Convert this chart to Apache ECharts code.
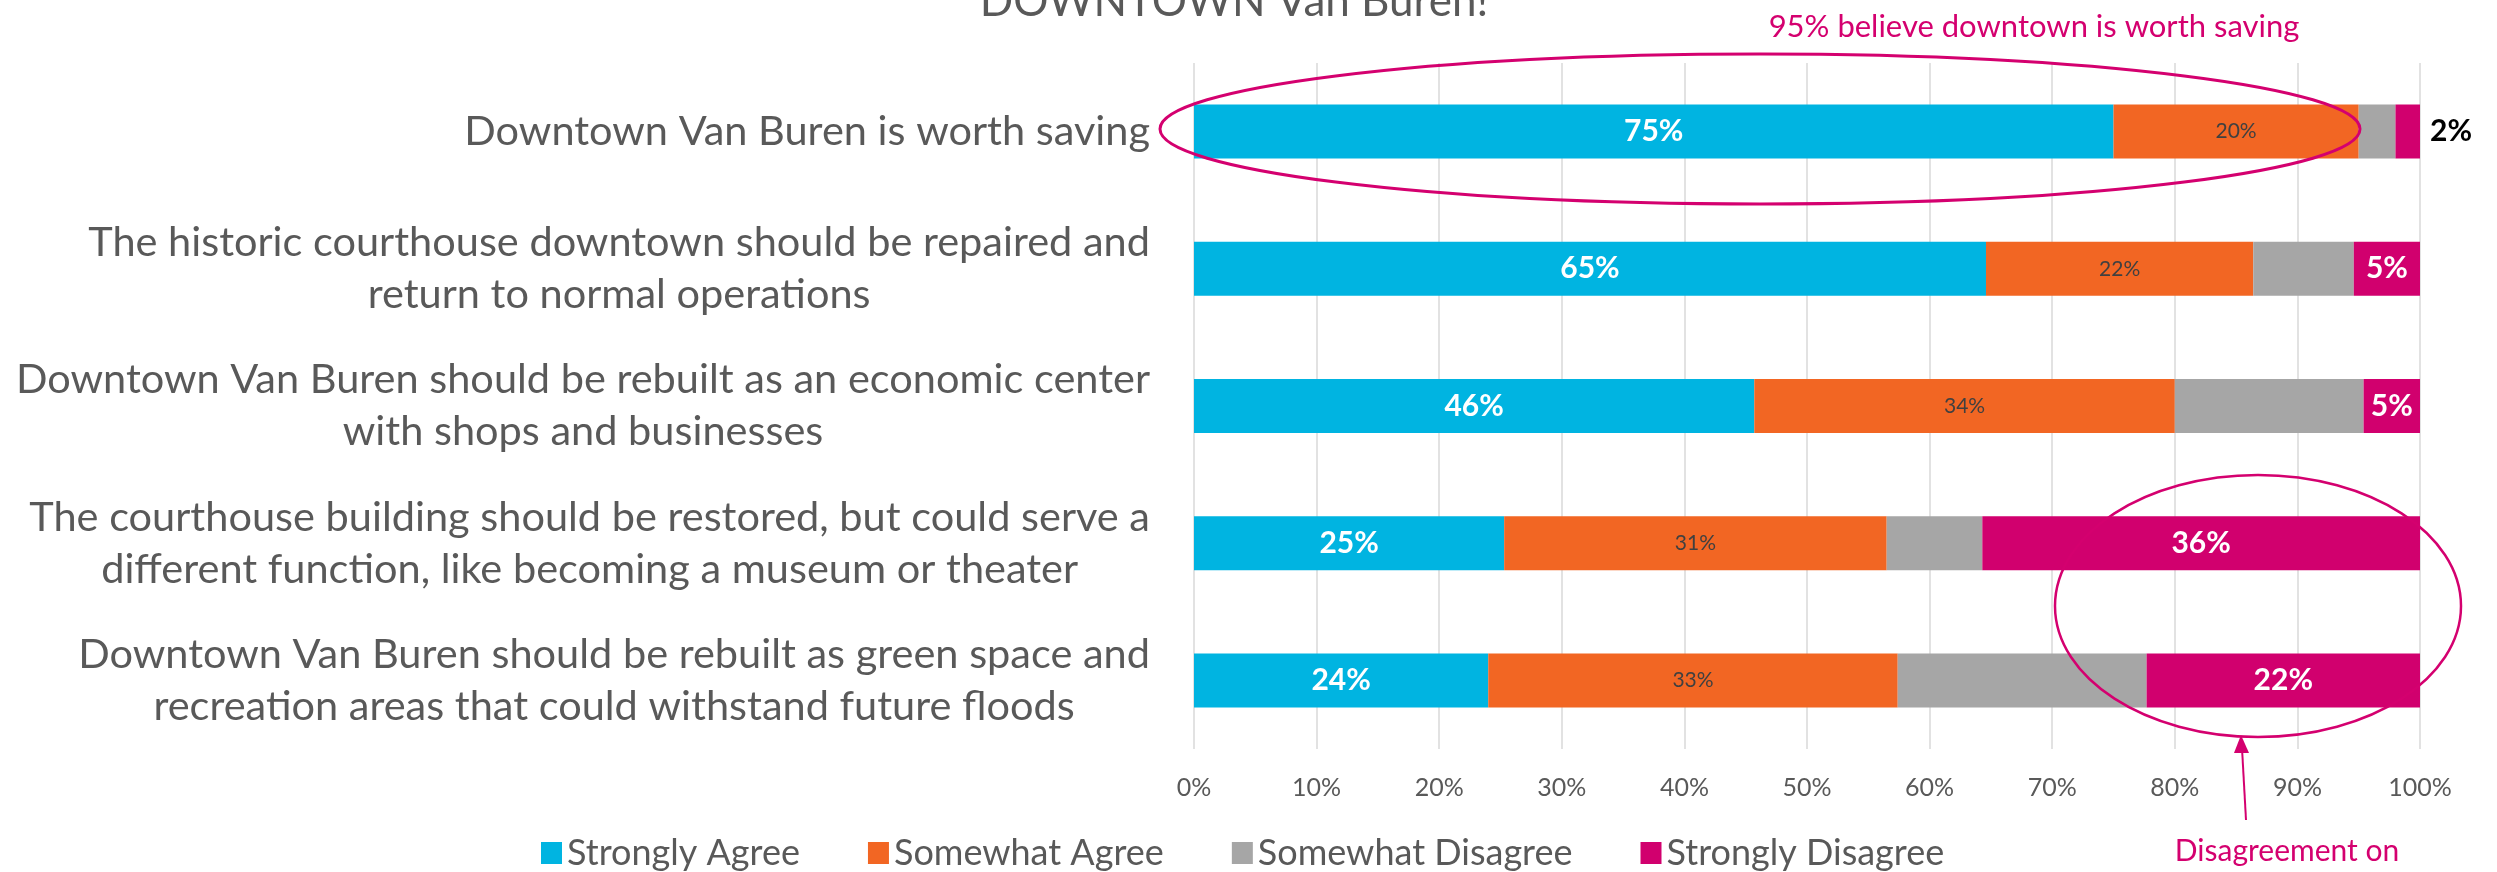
<!DOCTYPE html>
<html>
<head>
<meta charset="utf-8">
<script src="https://cdn.jsdelivr.net/npm/echarts@6/dist/echarts.min.js"></script>
<style>
html,body{margin:0;padding:0;background:#fff;}
#chart{width:2497px;height:872px;}
</style>
</head>
<body>
<div id="chart"></div>
<script>
const categories = [
  "Downtown Van Buren is worth saving",
  "The historic courthouse downtown should be repaired and\nreturn to normal operations",
  "Downtown Van Buren should be rebuilt as an economic center\nwith shops and businesses",
  "The courthouse building should be restored, but could serve a\ndifferent function, like becoming a museum or theater",
  "Downtown Van Buren should be rebuilt as green space and\nrecreation areas that could withstand future floods"
];
const seriesNames = ["Strongly Agree", "Somewhat Agree", "Somewhat Disagree", "Strongly Disagree"];
const stronglyAgree    = [75.0, 64.6, 45.7, 25.3, 24.0];
const somewhatAgree    = [20.0, 21.8, 34.3, 31.2, 33.4];
const somewhatDisagree = [3.0, 8.2, 15.4, 7.8, 20.3];
const stronglyDisagree = [2.0, 5.4, 4.6, 35.7, 22.3];
const xTicks = [0, 10, 20, 30, 40, 50, 60, 70, 80, 90, 100];

const FONT = "Lato, 'Open Sans', sans-serif";
const GRAY = "#595959";
const MAGENTA = "#D4006F";
const colors = ["#00B4E1", "#F26623", "#A6A6A6", "#D1006E"];

const chart = echarts.init(document.getElementById('chart'), null, {renderer: 'canvas'});

const pct = p => Math.round(p.value) + '%';

const option = {
  animation: false,
  textStyle: {fontFamily: FONT},
  grid: {left: 1194, right: 77, top: 63, bottom: 123, containLabel: false},
  legend: {
    data: seriesNames,
    left: 536, top: 830,
    icon: 'rect', itemWidth: 21, itemHeight: 22, itemGap: 68,
    textStyle: {fontSize: 36, color: GRAY, fontFamily: FONT}
  },
  xAxis: {
    type: 'value', min: xTicks[0], max: xTicks[xTicks.length - 1], interval: 10,
    axisLine: {show: false}, axisTick: {show: false},
    splitLine: {show: true, lineStyle: {color: '#D9D9D9', width: 1.5}},
    axisLabel: {formatter: '{value}%', fontSize: 25, color: GRAY, margin: 26, fontFamily: FONT}
  },
  yAxis: {
    type: 'category', data: categories, inverse: true,
    axisLine: {show: false}, axisTick: {show: false},
    axisLabel: {
      margin: 44, align: 'right',
      formatter: v => v.split('\n').map(l => '{c|' + l + '}').join('\n'),
      rich: {c: {align: 'center', fontSize: 41.5, lineHeight: 52, color: GRAY, fontFamily: FONT}}
    }
  },
  series: [
    {
      name: seriesNames[0], type: 'bar', stack: 't', barWidth: 54, data: stronglyAgree,
      itemStyle: {color: colors[0]},
      label: {show: true, position: 'inside', formatter: pct, color: '#fff', fontWeight: 'bold', fontSize: 30, fontFamily: FONT}
    },
    {
      name: seriesNames[1], type: 'bar', stack: 't', data: somewhatAgree,
      itemStyle: {color: colors[1]},
      label: {show: true, position: 'inside', formatter: pct, color: '#404040', fontSize: 21, fontFamily: FONT}
    },
    {
      name: seriesNames[2], type: 'bar', stack: 't', data: somewhatDisagree,
      itemStyle: {color: colors[2]}
    },
    {
      name: seriesNames[3], type: 'bar', stack: 't',
      data: stronglyDisagree.map(v => v < 3 ? {value: v, label: {position: 'right', distance: 10, color: '#000'}} : v),
      itemStyle: {color: colors[3]},
      label: {show: true, position: 'inside', formatter: pct, color: '#fff', fontWeight: 'bold', fontSize: 30, fontFamily: FONT}
    }
  ],
  graphic: [
    {type: 'text', x: 1234, y: 2, silent: true,
     style: {text: 'DOWNTOWN Van Buren!', fill: GRAY, font: "44px " + FONT, align: 'center', verticalAlign: 'middle'}},
    {type: 'text', x: 2034, y: 27, silent: true,
     style: {text: '95% believe downtown is worth saving', fill: MAGENTA, font: "31px " + FONT, align: 'center', verticalAlign: 'middle'}},
    {type: 'ellipse', silent: true, z: 100,
     shape: {cx: 1760, cy: 129, rx: 600, ry: 75},
     style: {fill: null, stroke: MAGENTA, lineWidth: 3}},
    {type: 'ellipse', silent: true, z: 100,
     shape: {cx: 2258, cy: 606, rx: 203, ry: 131},
     style: {fill: null, stroke: MAGENTA, lineWidth: 2.5}},
    {type: 'line', silent: true, z: 100,
     shape: {x1: 2246, y1: 820, x2: 2242, y2: 748},
     style: {stroke: MAGENTA, lineWidth: 2}},
    {type: 'polygon', silent: true, z: 100,
     shape: {points: [[2241, 735], [2234, 753], [2249, 753]]},
     style: {fill: MAGENTA}},
    {type: 'text', x: 2287, y: 851, silent: true,
     style: {text: 'Disagreement on', fill: MAGENTA, font: "30px " + FONT, align: 'center', verticalAlign: 'middle'}}
  ]
};
chart.setOption(option);
</script>
</body>
</html>
